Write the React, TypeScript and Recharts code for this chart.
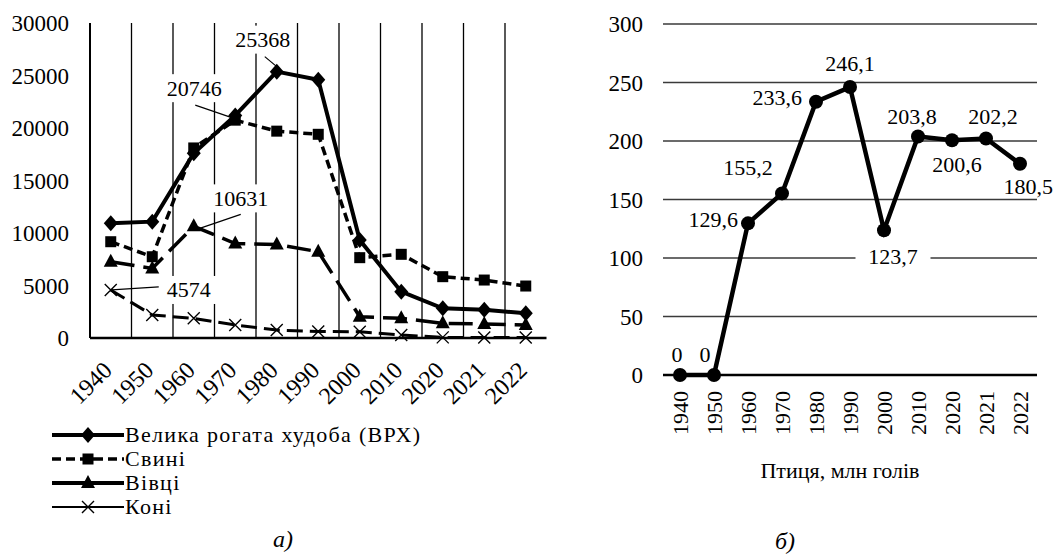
import React from "react"
import { CartesianGrid, Label, LabelList, Line, LineChart, XAxis, YAxis } from "recharts"

const YEARS = ["1940", "1950", "1960", "1970", "1980", "1990", "2000", "2010", "2020", "2021", "2022"]
const CATTLE = [10920, 11080, 17600, 21200, 25368, 24600, 9330, 4410, 2830, 2700, 2350]
const PIGS = [9170, 7740, 18100, 20746, 19700, 19400, 7650, 7970, 5840, 5520, 4950]
const SHEEP = [7270, 6630, 10631, 9000, 8900, 8220, 2030, 1870, 1400, 1330, 1240]
const HORSES = [4574, 2190, 1870, 1240, 760, 620, 600, 290, 60, 50, 40]
const POULTRY = [0, 0, 129.6, 155.2, 233.6, 246.1, 123.7, 203.8, 200.6, 202.2, 180.5]

const LEFT_TICKS = [0, 5000, 10000, 15000, 20000, 25000, 30000]
const RIGHT_TICKS = [0, 50, 100, 150, 200, 250, 300]
const POULTRY_TITLE = "Птиця, млн голів"

const FONT = "'Liberation Serif', 'Times New Roman', serif"

// label placement for the poultry chart, one [dx, dy, anchor] per point
const POULTRY_LABEL_POS: [number, number, string][] = [
  [-3, -21, "middle"],
  [-9, -21, "middle"],
  [-10, -4, "end"],
  [-34, -26, "middle"],
  [-14, -4, "end"],
  [0, -24, "middle"],
  [9, 26, "middle"],
  [-6, -20, "middle"],
  [5, 24, "middle"],
  [7, -22, "middle"],
  [33, 23, "end"],
]

type Marker = "diamond" | "square" | "triangle" | "cross"

const SERIES: {
  key: string
  name: string
  dash?: string
  legendDash?: string
  width: number
  legendWidth: number
  marker: Marker
  note: { index: number; dx: number; dy: number; line: [number, number, number, number] }
}[] = [
  { key: "cattle", name: "Велика рогата худоба (ВРХ)", width: 4, legendWidth: 4, marker: "diamond",
    note: { index: 4, dx: -14, dy: -32, line: [-12, -15, 0, -5] } },
  { key: "pigs", name: "Свині", dash: "9 5", legendDash: "9 5", width: 3.5, legendWidth: 3.5, marker: "square",
    note: { index: 3, dx: -41, dy: -32, line: [-40, -15, -5, -3] } },
  { key: "sheep", name: "Вівці", dash: "24 9", width: 3.5, legendWidth: 4, marker: "triangle",
    note: { index: 2, dx: 47, dy: -28, line: [47, -12, 3, 3] } },
  { key: "horses", name: "Коні", dash: "16 7", width: 3, legendWidth: 2, marker: "cross",
    note: { index: 0, dx: 78, dy: 0, line: [48, -3, 1, 0] } },
]

const leftData = YEARS.map((year, i) => ({
  year,
  cattle: CATTLE[i],
  pigs: PIGS[i],
  sheep: SHEEP[i],
  horses: HORSES[i],
}))

const rightData = YEARS.map((year, i) => ({ year, poultry: POULTRY[i] }))

function markerShape(marker: Marker, cx: number, cy: number, key?: string) {
  switch (marker) {
    case "diamond":
      return <path key={key} d={`M${cx},${cy - 8}L${cx + 7},${cy}L${cx},${cy + 8}L${cx - 7},${cy}Z`} fill="#000" />
    case "square":
      return <rect key={key} x={cx - 5.5} y={cy - 5.5} width={11} height={11} fill="#000" />
    case "triangle":
      return <path key={key} d={`M${cx},${cy - 8}L${cx + 7},${cy + 5}L${cx - 7},${cy + 5}Z`} fill="#000" />
    default:
      return (
        <path key={key} d={`M${cx - 6},${cy - 6}L${cx + 6},${cy + 6}M${cx + 6},${cy - 6}L${cx - 6},${cy + 6}`}
          stroke="#000" strokeWidth={1.4} fill="none" />
      )
  }
}

const makeDot = (marker: Marker) => (p: any) => {
  if (p.cx == null || p.cy == null) return <g key={`e${p.index}`} />
  return markerShape(marker, p.cx, p.cy, `${marker}-${p.index}`)
}

const makeNote = (note: (typeof SERIES)[number]["note"]) => (p: any) => {
  const { x, y, value, index } = p
  if (index !== note.index) return null
  const tx = x + note.dx
  const ty = y + note.dy
  return (
    <g key={`note-${index}`}>
      <rect x={tx - 31} y={ty - 14} width={62} height={28} fill="#fff" />
      <line x1={x + note.line[0]} y1={y + note.line[1]} x2={x + note.line[2]} y2={y + note.line[3]}
        stroke="#000" strokeWidth={1.2} />
      <text x={tx} y={ty} textAnchor="middle" dominantBaseline="central" fontSize={22} fontFamily={FONT} fill="#000">
        {value}
      </text>
    </g>
  )
}

const poultryLabel = (p: any) => {
  const { x, y, value, index } = p
  const [dx, dy, anchor] = POULTRY_LABEL_POS[index]
  const txt = String(value).replace(".", ",")
  const w = txt.length * 11 + 4
  const tx = x + dx
  const ty = y + dy
  const rx = anchor === "end" ? tx - w : tx - w / 2
  return (
    <g key={`pl-${index}`}>
      {index === 6 && <rect x={rx - 8} y={ty - 12} width={w + 16} height={24} fill="#fff" />}
      <text x={tx} y={ty} textAnchor={anchor as any} dominantBaseline="central" fontSize={22} fontFamily={FONT} fill="#000">
        {txt}
      </text>
    </g>
  )
}

const SlantTick = (p: any) => {
  const { x, y, payload } = p
  const ax = x - 3
  const ay = y + 28
  return (
    <text x={ax} y={ay} transform={`rotate(-45, ${ax}, ${ay})`} textAnchor="end" dominantBaseline="central"
      fontSize={24} fontFamily={FONT} fill="#000">
      {payload.value}
    </text>
  )
}

const UpTick = (p: any) => {
  const { x, y, payload } = p
  const ax = x
  const ay = y + 16
  return (
    <text x={ax} y={ay} transform={`rotate(-90, ${ax}, ${ay})`} textAnchor="end" dominantBaseline="central"
      fontSize={22} fontFamily={FONT} fill="#000">
      {payload.value}
    </text>
  )
}

function LegendSample({ s }: { s: (typeof SERIES)[number] }) {
  return (
    <svg width={72} height={24} style={{ display: "block" }}>
      <line x1={0} y1={12} x2={30} y2={12} stroke="#000" strokeWidth={s.legendWidth} strokeDasharray={s.legendDash} />
      <line x1={42} y1={12} x2={72} y2={12} stroke="#000" strokeWidth={s.legendWidth} strokeDasharray={s.legendDash} />
      <line x1={30} y1={12} x2={42} y2={12} stroke="#000" strokeWidth={s.legendWidth} />
      {markerShape(s.marker, 36, 12)}
    </svg>
  )
}

export default function App() {
  const tickStyle = { fontSize: 23, fontFamily: FONT, fill: "#000" }
  return (
    <div style={{ position: "absolute", left: 0, top: 0, width: 1056, height: 554, background: "#fff", fontFamily: FONT, color: "#000" }}>
      <div style={{ position: "absolute", left: 0, top: 0 }}>
        <LineChart width={560} height={420} data={leftData} margin={{ top: 23, right: 13.5, left: 0, bottom: 0 }}
          style={{ fontFamily: FONT }}>
          <CartesianGrid
            horizontal={false}
            stroke="#000"
            strokeWidth={1.3}
            verticalCoordinatesGenerator={({ offset }: any) =>
              YEARS.slice(1).map((_, i) => offset.left + (offset.width * (i + 1)) / YEARS.length)
            }
          />
          <XAxis dataKey="year" scale="band" interval={0} tickLine={false} tickSize={0} tickMargin={0} height={82}
            axisLine={{ stroke: "#000", strokeWidth: 2.5 }} tick={<SlantTick />} />
          <YAxis domain={[0, 30000]} ticks={LEFT_TICKS} width={90} tickLine={false} tickSize={0} tickMargin={21}
            axisLine={{ stroke: "#000", strokeWidth: 2 }} tick={tickStyle} interval={0} />
          {SERIES.map((s) => (
            <Line key={s.key} dataKey={s.key} name={s.name} type="linear" stroke="#000" strokeWidth={s.width}
              strokeDasharray={s.dash} dot={makeDot(s.marker)} activeDot={false} isAnimationActive={false}>
              <LabelList dataKey={s.key} content={makeNote(s.note)} />
            </Line>
          ))}
        </LineChart>
      </div>

      <div style={{ position: "absolute", left: 52, top: 423 }}>
        {SERIES.map((s) => (
          <div key={s.key} style={{ display: "flex", alignItems: "center", height: 24, fontSize: 22, lineHeight: "24px" }}>
            <LegendSample s={s} />
            <span style={{ marginLeft: 1, whiteSpace: "nowrap", letterSpacing: 1.3 }}>{s.name}</span>
          </div>
        ))}
      </div>

      <div style={{ position: "absolute", left: 263, top: 526, width: 40, textAlign: "center", fontSize: 24, fontStyle: "italic" }}>а)</div>

      <div style={{ position: "absolute", left: 560, top: 0 }}>
        <LineChart width={496} height={490} data={rightData} margin={{ top: 24, right: 19, left: 0, bottom: 0 }}
          style={{ fontFamily: FONT }}>
          <CartesianGrid vertical={false} stroke="#3a3a3a" strokeWidth={1.5} />
          <XAxis dataKey="year" scale="band" interval={0} tickLine={false} tickSize={0} tickMargin={0} height={115}
            axisLine={{ stroke: "#000", strokeWidth: 2.5 }} tick={<UpTick />}>
            <Label value={POULTRY_TITLE} position="insideBottom" offset={12} dx={-10}
              style={{ fontSize: 22, fontFamily: FONT, fill: "#000" }} />
          </XAxis>
          <YAxis domain={[0, 300]} ticks={RIGHT_TICKS} width={103} tickLine={false} tickSize={0} tickMargin={20}
            axisLine={false} tick={tickStyle} interval={0} />
          <Line dataKey="poultry" type="linear" stroke="#000" strokeWidth={4.5} isAnimationActive={false}
            dot={{ r: 7, fill: "#000", stroke: "#000", strokeWidth: 0 }} activeDot={false}>
            <LabelList dataKey="poultry" content={poultryLabel} />
          </Line>
        </LineChart>
      </div>

      <div style={{ position: "absolute", left: 765, top: 528, width: 40, textAlign: "center", fontSize: 24, fontStyle: "italic" }}>б)</div>
    </div>
  )
}
